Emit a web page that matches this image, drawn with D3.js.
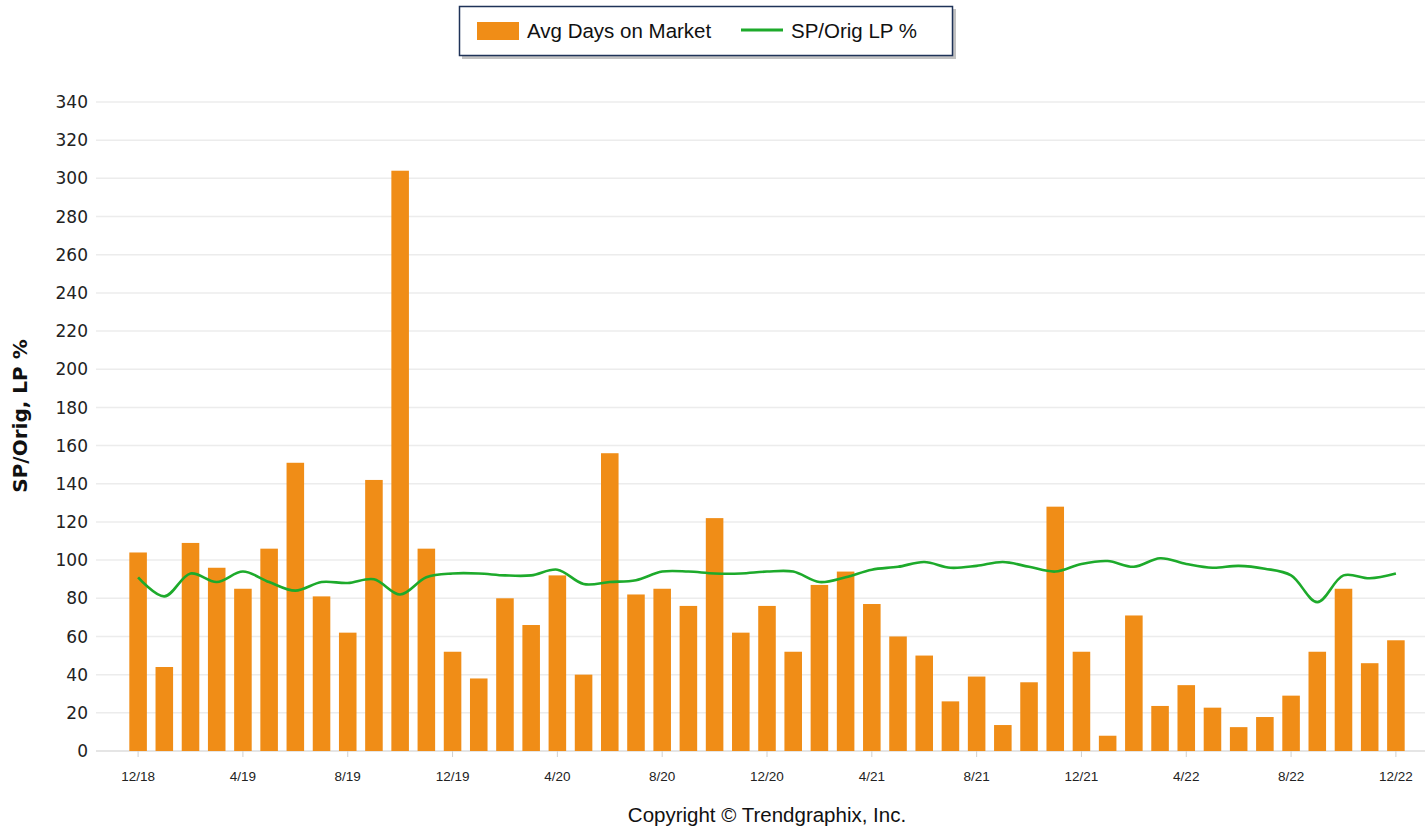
<!DOCTYPE html>
<html><head><meta charset="utf-8">
<script src="https://cdn.jsdelivr.net/npm/d3@7"></script>
<style>body{margin:0;background:#fff;} svg{display:block;}</style>
</head><body>
<svg id="chart" width="1427" height="829"></svg>
<script>
const months = ["12/18","1/19","2/19","3/19","4/19","5/19","6/19","7/19","8/19","9/19","10/19","11/19",
"12/19","1/20","2/20","3/20","4/20","5/20","6/20","7/20","8/20","9/20","10/20","11/20",
"12/20","1/21","2/21","3/21","4/21","5/21","6/21","7/21","8/21","9/21","10/21","11/21",
"12/21","1/22","2/22","3/22","4/22","5/22","6/22","7/22","8/22","9/22","10/22","11/22","12/22"];
const avgDays = [104,44,109,96,85,106,151,81,62,142,304,106,
52,38,80,66,92,40,156,82,85,76,122,62,
76,52,87,94,77,60,50,26,39,13.6,36,128,
52,8,71,23.6,34.5,22.7,12.5,17.8,29,52,85,46,58];
const spOrigLp = [91,81,93,88.5,94,88.5,84,88.5,88,90,82,91,
93,93,92,92,95,87.5,88.5,89.5,94,94,93,93,
94,94,88.5,91,95,96.5,99,96,97,99,96.5,94,
98,99.5,96.5,101,98,96,97,95.5,92,78,92,90.5,93];
const yTicks = d3.range(0, 341, 20);
const xTickLabels = ["12/18","4/19","8/19","12/19","4/20","8/20","12/20","4/21","8/21","12/21","4/22","8/22","12/22"];

const svg = d3.select("#chart");
const plotLeft = 96, plotRight = 1425, plotTop = 102, plotBottom = 751;
const x = d3.scaleBand().domain(months).range([125, 1409]).paddingInner(0.33).paddingOuter(0.165);
const y = d3.scaleLinear().domain([0, 340]).range([plotBottom, plotTop]);
const orange = "#F08D17", green = "#1DAA2B";

// gridlines
svg.append("g").selectAll("line").data(yTicks).join("line")
  .attr("x1", plotLeft).attr("x2", plotRight)
  .attr("y1", d => y(d)).attr("y2", d => y(d))
  .attr("stroke", d => d === 0 ? "#dcdcdc" : "#ececec").attr("stroke-width", 1.5);

// y labels
svg.append("g").selectAll("text").data(yTicks).join("text")
  .attr("x", 88).attr("y", d => y(d)).attr("dy", "0.36em")
  .attr("text-anchor", "end").attr("font-family", "DejaVu Sans, sans-serif")
  .attr("font-size", 17).attr("fill", "#222").text(d => d);

// x ticks
const xt = svg.append("g");
xTickLabels.forEach(lbl => {
  const cx = x(lbl) + x.bandwidth() / 2;
  xt.append("line").attr("x1", cx).attr("x2", cx).attr("y1", plotBottom).attr("y2", plotBottom + 6)
    .attr("stroke", "#d0d0d0").attr("stroke-width", 1);
  xt.append("text").attr("x", cx).attr("y", 781).attr("text-anchor", "middle")
    .attr("font-family", "Liberation Sans, Arial, sans-serif").attr("font-size", 13.5)
    .attr("fill", "#222").text(lbl);
});

// bars
svg.append("g").selectAll("rect").data(avgDays).join("rect")
  .attr("x", (d, i) => x(months[i])).attr("width", x.bandwidth())
  .attr("y", d => y(d)).attr("height", d => plotBottom - y(d))
  .attr("fill", orange);

// line
const line = d3.line()
  .x((d, i) => x(months[i]) + x.bandwidth() / 2)
  .y(d => y(d))
  .curve(d3.curveCatmullRom.alpha(0.5));
svg.append("path").datum(spOrigLp).attr("d", line)
  .attr("fill", "none").attr("stroke", green).attr("stroke-width", 2.6);

// y axis title
svg.append("text").attr("transform", "translate(27,416) rotate(-90)")
  .attr("text-anchor", "middle").attr("font-family", "DejaVu Sans, sans-serif")
  .attr("font-weight", "bold").attr("font-size", 20).attr("fill", "#111")
  .text("SP/Orig, LP %");

// legend
const lg = svg.append("g");
lg.append("rect").attr("x", 462).attr("y", 9).attr("width", 494).attr("height", 50).attr("fill", "#9a9a9a").attr("opacity", 0.6);
lg.append("rect").attr("x", 459.5).attr("y", 6.5).attr("width", 493).attr("height", 49)
  .attr("fill", "#fff").attr("stroke", "#1f3358").attr("stroke-width", 1.5);
lg.append("rect").attr("x", 477).attr("y", 22).attr("width", 42).attr("height", 18).attr("fill", orange);
lg.append("text").attr("x", 527).attr("y", 38).attr("font-family", "Liberation Sans, Arial, sans-serif")
  .attr("font-size", 20.5).attr("fill", "#111").text("Avg Days on Market");
lg.append("line").attr("x1", 741).attr("x2", 783).attr("y1", 30).attr("y2", 30)
  .attr("stroke", green).attr("stroke-width", 3);
lg.append("text").attr("x", 791).attr("y", 38).attr("font-family", "Liberation Sans, Arial, sans-serif")
  .attr("font-size", 20.5).attr("fill", "#111").text("SP/Orig LP %");

// copyright
svg.append("text").attr("x", 767).attr("y", 822).attr("text-anchor", "middle")
  .attr("font-family", "Liberation Sans, Arial, sans-serif").attr("font-size", 20.5)
  .attr("fill", "#111").text("Copyright \u00A9 Trendgraphix, Inc.");
</script>
</body></html>
